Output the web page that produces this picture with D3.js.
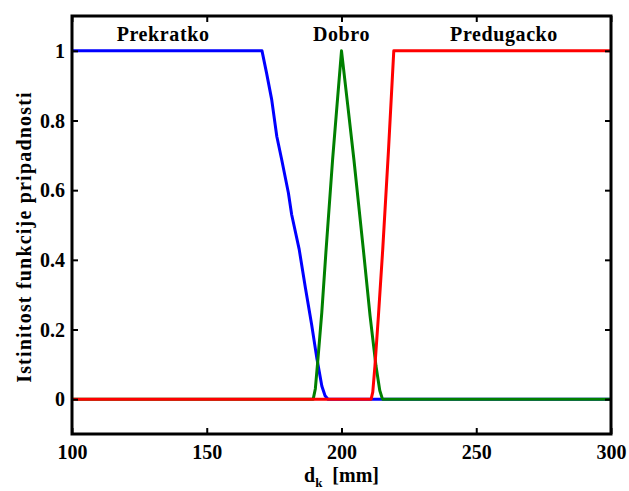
<!DOCTYPE html>
<html>
<head>
<meta charset="utf-8">
<script src="https://cdn.jsdelivr.net/npm/d3@7"></script>
<style>
  html, body { margin: 0; padding: 0; background: #fff; }
</style>
</head>
<body>
<svg id="chart" width="629" height="491"></svg>
<script>
// ---- data ----
const categoryNames = ["Prekratko", "Dobro", "Predugacko"];
const categoryLabelX = [133.8, 200, 260.3];   // data x where each set name is centred

const prekratkoX = [100, 170.5, 172.2, 174.1, 176.0, 177.8, 180.3, 181.5, 184.3, 186.6, 188.9, 190.8, 192.7, 193.9, 195.0, 300];
const prekratkoY = [1, 1, 0.936, 0.860, 0.754, 0.688, 0.592, 0.530, 0.430, 0.320, 0.215, 0.120, 0.038, 0.010, 0, 0];

const dobroX = [100, 189.5, 190.3, 191.2, 192.7, 194.2, 196.7, 198.4, 200, 202.3, 204.6, 208.1, 210.6, 212.8, 214.2, 215.2, 300];
const dobroY = [0, 0, 0.030, 0.110, 0.250, 0.420, 0.688, 0.850, 1, 0.845, 0.688, 0.430, 0.239, 0.095, 0.025, 0, 0];

const predugackoX = [100, 211.0, 211.6, 212.4, 213.7, 215.3, 217.4, 219.4, 300];
const predugackoY = [0, 0, 0.020, 0.095, 0.239, 0.430, 0.710, 1, 1];

const xTicks = [100, 150, 200, 250, 300];
const yTicks = [0, 0.2, 0.4, 0.6, 0.8, 1];
const xDomain = [100, 300];
const yDomain = [-0.1, 1.1];

const seriesColors = ["#0000ff", "#008000", "#ff0000"];
const yLabelText = "Istinitost funkcije pripadnosti";

// ---- layout ----
const FONT = "'Liberation Serif', 'Times New Roman', Times, serif";
const svg = d3.select("#chart");
const L = 72, R = 611, T = 16, B = 434;
const x = d3.scaleLinear().domain(xDomain).range([L, R]);
const y = d3.scaleLinear().domain(yDomain).range([B, T]);

const series = [
  { xs: prekratkoX, ys: prekratkoY },
  { xs: dobroX, ys: dobroY },
  { xs: predugackoX, ys: predugackoY }
];

const line = d3.line().x(d => x(d[0])).y(d => y(d[1]));
const plot = svg.append("g");
series.forEach((s, i) => {
  const pts = s.xs.map((v, j) => [v, s.ys[j]]);
  plot.append("path")
    .attr("d", line(pts))
    .attr("fill", "none")
    .attr("stroke", seriesColors[i])
    .attr("stroke-width", 3)
    .attr("stroke-linejoin", "round");
});

// axes (ticks inward, mirrored)
const tickLen = 6;
const fmtY = d => (d === 0 || d === 1) ? String(d) : d.toFixed(1);

const axB = svg.append("g").attr("transform", `translate(0,${B})`)
  .call(d3.axisBottom(x).tickValues(xTicks).tickSize(-tickLen).tickPadding(11).tickFormat(d3.format("d")));
const axT = svg.append("g").attr("transform", `translate(0,${T})`)
  .call(d3.axisTop(x).tickValues(xTicks).tickSize(-tickLen).tickFormat(""));
const axL = svg.append("g").attr("transform", `translate(${L},0)`)
  .call(d3.axisLeft(y).tickValues(yTicks).tickSize(-tickLen).tickPadding(7).tickFormat(fmtY));
const axR = svg.append("g").attr("transform", `translate(${R},0)`)
  .call(d3.axisRight(y).tickValues(yTicks).tickSize(-tickLen).tickFormat(""));

[axB, axT, axL, axR].forEach(a => {
  a.attr("font-family", null).attr("font-size", null);
  a.select(".domain").remove();
  a.selectAll(".tick line").attr("stroke", "#000").attr("stroke-width", 2);
  a.selectAll(".tick text")
    .style("font-family", FONT)
    .style("font-weight", "bold")
    .style("font-size", "20px")
    .attr("fill", "#000");
});
axL.selectAll(".tick text").attr("dy", "0.34em");
axB.selectAll(".tick text").attr("dy", "0.71em");

// box
svg.append("rect")
  .attr("x", L).attr("y", T).attr("width", R - L).attr("height", B - T)
  .attr("fill", "none").attr("stroke", "#000").attr("stroke-width", 3);

// set names
svg.selectAll("text.cat").data(categoryNames).enter().append("text")
  .attr("class", "cat")
  .attr("x", (d, i) => x(categoryLabelX[i]))
  .attr("y", 41)
  .attr("text-anchor", "middle")
  .style("font-family", FONT)
  .style("font-weight", "bold")
  .style("font-size", "20px")
  .style("letter-spacing", "0.6px")
  .text(d => d);

// x label
const xl = svg.append("text")
  .attr("x", x(200))
  .attr("y", 482)
  .attr("text-anchor", "middle")
  .style("font-family", FONT)
  .style("font-weight", "bold")
  .style("font-size", "20px");
xl.append("tspan").text("d");
xl.append("tspan").attr("dy", 5).style("font-size", "13px").text("k");
xl.append("tspan").attr("dy", -5).text("\u00a0\u00a0[mm]");

// y label
svg.append("text")
  .attr("transform", `translate(31,${(T + B) / 2 + 12}) rotate(-90)`)
  .attr("text-anchor", "middle")
  .style("font-family", FONT)
  .style("font-weight", "bold")
  .style("font-size", "20px")
  .style("letter-spacing", "1.2px")
  .text(yLabelText);
</script>
</body>
</html>
